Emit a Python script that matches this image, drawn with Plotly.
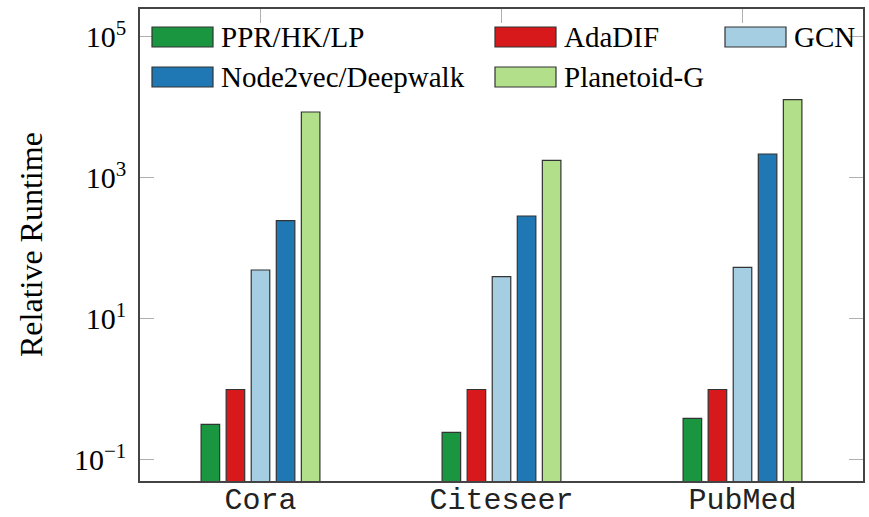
import plotly.graph_objects as go

categories = ["Cora", "Citeseer", "PubMed"]
series_names = ["PPR/HK/LP", "AdaDIF", "GCN", "Node2vec/Deepwalk", "Planetoid-G"]
ppr = [0.32, 0.247, 0.39]
adadif = [1.0, 1.0, 1.0]
gcn = [49.5, 39.8, 54.0]
node2vec = [248, 289, 2190]
planetoid = [8630, 1782, 12900]
series_values = [ppr, adadif, gcn, node2vec, planetoid]
colors = ["#1a9641", "#d7191c", "#a6cee3", "#1f78b4", "#b2df8a"]
ytick_vals = [1e-1, 1e1, 1e3, 1e5]
ytick_text = ["10<sup>\u22121</sup>", "10<sup>1</sup>", "10<sup>3</sup>", "10<sup>5</sup>"]

W, H = 869, 517
L, R, T, B = 140, 6, 9, 36
pw, ph = W - L - R, H - T - B

fig = go.Figure()
for name, vals, col in zip(series_names, series_values, colors):
    fig.add_trace(go.Bar(x=categories, y=vals, name=name, marker=dict(color=col, line=dict(color="#333333", width=1.2)),
                         showlegend=False))

# manual legend (wide keys as in the reference)
def px2x(px):
    return (px - L) / pw

def py2y(py):
    return (H - B - py) / ph

leg_pos = [(152, 27), (495, 27), (725, 27), (152, 67), (495, 67)]
for (bx, by), name, col in zip(leg_pos, series_names, colors):
    fig.add_shape(type="rect", xref="paper", yref="paper",
                  x0=px2x(bx), x1=px2x(bx + 61), y0=py2y(by + 20), y1=py2y(by),
                  fillcolor=col, line=dict(color="#333333", width=1.2))
    fig.add_annotation(xref="paper", yref="paper", x=px2x(bx + 67), y=py2y(by + 10),
                       text=name, showarrow=False, xanchor="left", yanchor="middle",
                       font=dict(family="Liberation Serif", size=29, color="black"))

fig.add_annotation(xref="paper", yref="paper", x=px2x(31), y=py2y(245), text="Relative Runtime",
                   textangle=-90, showarrow=False, xanchor="center", yanchor="middle",
                   font=dict(family="Liberation Serif", size=32, color="black"))

fig.update_layout(
    width=W, height=H, margin=dict(l=L, r=R, t=T, b=B, autoexpand=False),
    paper_bgcolor="white", plot_bgcolor="white",
    barmode="group", bargap=0.48, bargroupgap=0.26,
    showlegend=False,
)
fig.update_xaxes(range=[-0.5, 2.5], showline=True, linecolor="#444444", linewidth=1.5, mirror="ticks",
                 ticks="inside", ticklen=14, tickcolor="#b0b0b0", tickwidth=1, showgrid=False,
                 layer="below traces", automargin=False, ticklabelstandoff=-10,
                 tickfont=dict(family="Liberation Mono", size=30, color="#222222"))
fig.update_yaxes(type="log", range=[-1.298, 5.397], showline=True, linecolor="#444444", linewidth=1.5,
                 mirror="ticks", ticks="inside", ticklen=14, tickcolor="#b0b0b0", tickwidth=1,
                 showgrid=False, zeroline=False, tickvals=ytick_vals, ticktext=ytick_text,
                 ticklabelstandoff=6, automargin=False,
                 tickfont=dict(family="Liberation Serif", size=30, color="black"))

fig.write_html("out.html")
